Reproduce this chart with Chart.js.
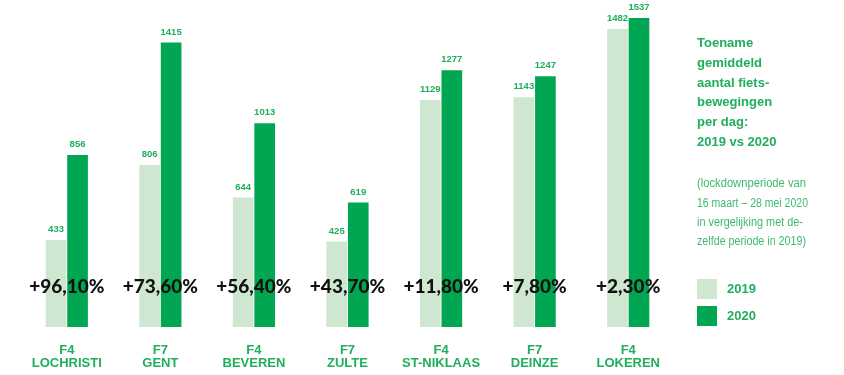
<!DOCTYPE html>
<html>
<head>
<meta charset="utf-8">
<script src="https://cdn.jsdelivr.net/npm/chart.js@4/dist/chart.umd.min.js"></script>
<style>
html,body{margin:0;padding:0;background:#fff;}
#wrap{width:844px;height:375px;position:relative;}
</style>
</head>
<body>
<div id="wrap"><canvas id="c" width="844" height="375"></canvas></div>
<script>
const codes = ['F4', 'F7', 'F4', 'F7', 'F4', 'F7', 'F4'];
const places = ['LOCHRISTI', 'GENT', 'BEVEREN', 'ZULTE', 'ST-NIKLAAS', 'DEINZE', 'LOKEREN'];
const values2019 = [433, 806, 644, 425, 1129, 1143, 1482];
const values2020 = [856, 1415, 1013, 619, 1277, 1247, 1537];
const growthLabels = ['+96,10%', '+73,60%', '+56,40%', '+43,70%', '+11,80%', '+7,80%', '+2,30%'];
const seriesNames = ['2019', '2020'];
const titleLines = ['Toename', 'gemiddeld', 'aantal fiets-', 'bewegingen', 'per dag:', '2019 vs 2020'];
const noteLines = ['(lockdownperiode van', '16 maart \u2013 28 mei 2020', 'in vergelijking met de-', 'zelfde periode in 2019)'];

const GREEN = '#00a651';
const LIGHT = '#cfe6d1';
const TEXT_GREEN = '#1fae5c';
const NOTE_GREEN = '#3dba6d';

const labels = codes.map((c, i) => [c, places[i]]);

const overlay = {
  id: 'overlay',
  afterDatasetsDraw(chart) {
    const ctx = chart.ctx;
    ctx.save();
    // value labels
    ctx.fillStyle = TEXT_GREEN;
    ctx.font = 'bold 9.5px "Liberation Sans", Arial, sans-serif';
    ctx.textAlign = 'center';
    ctx.textBaseline = 'middle';
    chart.data.datasets.forEach((ds, di) => {
      const meta = chart.getDatasetMeta(di);
      meta.data.forEach((bar, i) => {
        ctx.fillText(String(ds.data[i]), bar.x, bar.y - 10.5);
      });
    });
    // growth labels
    const xs = chart.scales.x;
    ctx.fillStyle = '#111';
    ctx.font = '900 19px Lato, "Open Sans", sans-serif';
    growthLabels.forEach((t, i) => {
      ctx.fillText(t, xs.getPixelForValue(i), 287);
    });
    // side title
    ctx.textAlign = 'left';
    ctx.fillStyle = TEXT_GREEN;
    ctx.font = 'bold 13px "Liberation Sans", Arial, sans-serif';
    titleLines.forEach((t, i) => ctx.fillText(t, 697, 43.5 + i * 19.8));
    ctx.fillStyle = NOTE_GREEN;
    ctx.font = '12px "Liberation Sans Narrow", "Liberation Sans", Arial, sans-serif';
    const noteW = [109, 111, 106, 109];
    noteLines.forEach((t, i) => ctx.fillText(t, 697, 184 + i * 19.3, noteW[i]));
    // legend
    chart.data.datasets.forEach((ds, di) => {
      const y = 279 + di * 27;
      ctx.fillStyle = ds.backgroundColor;
      ctx.fillRect(697, y, 20, 20);
      ctx.fillStyle = TEXT_GREEN;
      ctx.font = 'bold 13px "Liberation Sans", Arial, sans-serif';
      ctx.fillText(ds.label, 727, y + 10.5);
    });
    ctx.restore();
  }
};

new Chart(document.getElementById('c'), {
  type: 'bar',
  data: {
    labels: labels,
    datasets: [
      { label: seriesNames[0], data: values2019, backgroundColor: LIGHT },
      { label: seriesNames[1], data: values2020, backgroundColor: GREEN }
    ]
  },
  options: {
    responsive: false,
    animation: false,
    devicePixelRatio: 1,
    layout: { padding: { left: 20, right: 169, top: 5.3, bottom: 0 } },
    datasets: { bar: { categoryPercentage: 0.46, barPercentage: 0.96 } },
    plugins: { legend: { display: false }, tooltip: { enabled: false } },
    scales: {
      y: { display: false, min: 0, max: 1600 },
      x: {
        grid: { display: false, drawTicks: false },
        border: { display: false },
        ticks: {
          color: TEXT_GREEN,
          padding: 17,
          font: { family: '"Liberation Sans", Arial, sans-serif', size: 13, weight: 'bold', lineHeight: 1.0 },
          maxRotation: 0, autoSkip: false
        },
        afterFit(scale) { scale.height = 48; }
      }
    }
  },
  plugins: [overlay]
});
</script>
</body>
</html>
